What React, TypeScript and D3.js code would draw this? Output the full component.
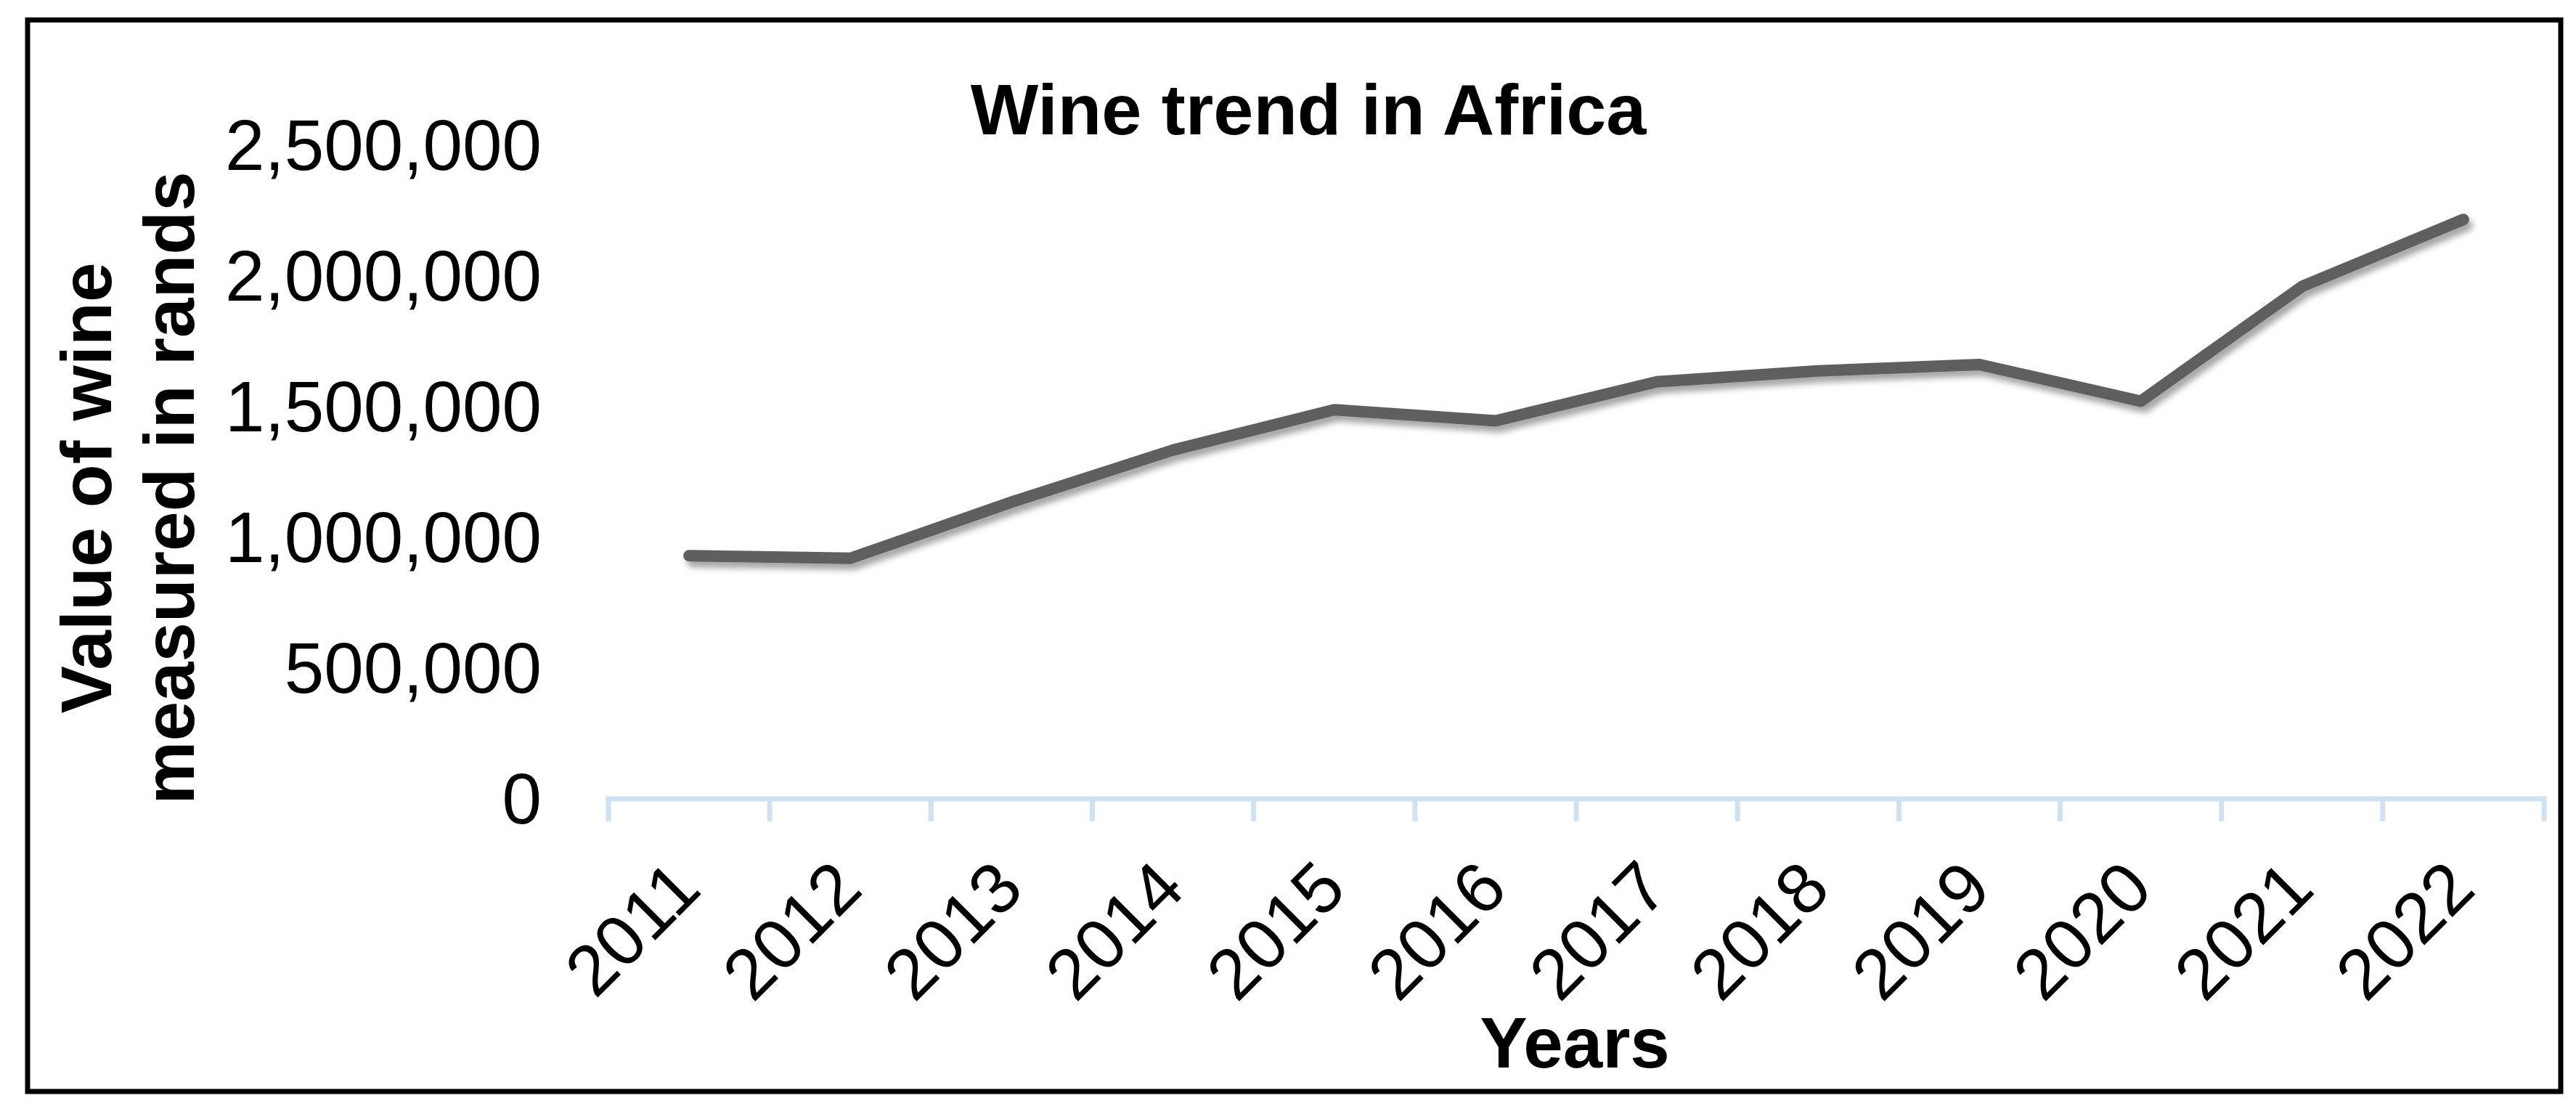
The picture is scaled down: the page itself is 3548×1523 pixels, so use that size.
import React from "react";
import * as d3 from "d3";

const years = ["2011","2012","2013","2014","2015","2016","2017","2018","2019","2020","2021","2022"];
const wineValues = [930000, 920000, 1135000, 1334000, 1488000, 1446000, 1595000, 1637000, 1661000, 1521000, 1960000, 2216000];
const yTicks = [0, 500000, 1000000, 1500000, 2000000, 2500000];
const chartTitle = "Wine trend in Africa";
const xTitle = "Years";
const yTitleLines = ["Value of wine", "measured in rands"];

const W = 3548;
const H = 1523;
const FONT = "'Liberation Sans', Arial, Helvetica, sans-serif";

export default function App() {
  const x = d3.scaleBand<string>().domain(years).range([838, 3504]).padding(0);
  const y = d3.scaleLinear().domain([0, 2500000]).range([1100, 200]);
  const fmt = d3.format(",");
  const line = d3
    .line<number>()
    .x((_, i) => (x(years[i]) as number) + x.bandwidth() / 2)
    .y((d) => y(d));

  const boundaries = years.map((yr) => x(yr) as number).concat([x.range()[1]]);

  return (
    <svg
      width={W}
      height={H}
      viewBox={`0 0 ${W} ${H}`}
      style={{ position: "absolute", left: 0, top: 0, background: "#fff" }}
    >
      <defs>
        <filter id="shadow" x="-10%" y="-10%" width="120%" height="130%">
          <feDropShadow dx="5" dy="8" stdDeviation="4" floodColor="#000" floodOpacity="0.35" />
        </filter>
      </defs>
      <rect x={0} y={0} width={W} height={H} fill="#fff" />
      <rect x={38} y={27.5} width={3527 - 38} height={1503 - 27.5} fill="#fff" stroke="#000" strokeWidth={7} />

      <text x={1802} y={185} textAnchor="middle" fontFamily={FONT} fontWeight="bold" fontSize={99} fill="#000">
        {chartTitle}
      </text>

      {yTicks.map((t) => (
        <text key={t} x={746} y={y(t) + 34} textAnchor="end" fontFamily={FONT} fontSize={98} fill="#000">
          {fmt(t)}
        </text>
      ))}

      {yTitleLines.map((ln, i) => (
        <text
          key={ln}
          transform={`translate(${153 + i * 114},672) rotate(-90)`}
          textAnchor="middle"
          fontFamily={FONT}
          fontWeight="bold"
          fontSize={98}
          fill="#000"
        >
          {ln}
        </text>
      ))}

      <line x1={x.range()[0] - 3.5} x2={x.range()[1] + 3.5} y1={1100} y2={1100} stroke="#CFE2F3" strokeWidth={7} />
      {boundaries.map((bx, i) => (
        <line key={i} x1={bx} x2={bx} y1={1100} y2={1131} stroke="#CFE2F3" strokeWidth={7} />
      ))}

      {years.map((yr) => {
        const cx = (x(yr) as number) + x.bandwidth() / 2;
        return (
          <text
            key={yr}
            transform={`translate(${cx + 20},1228) rotate(-45)`}
            textAnchor="end"
            fontFamily={FONT}
            fontSize={98}
            fill="#000"
          >
            {yr}
          </text>
        );
      })}

      <text x={2169} y={1470} textAnchor="middle" fontFamily={FONT} fontWeight="bold" fontSize={98} fill="#000">
        {xTitle}
      </text>

      <path
        d={line(wineValues) as string}
        fill="none"
        stroke="#5F5F5F"
        strokeWidth={16}
        strokeLinecap="round"
        strokeLinejoin="round"
        filter="url(#shadow)"
      />
    </svg>
  );
}
